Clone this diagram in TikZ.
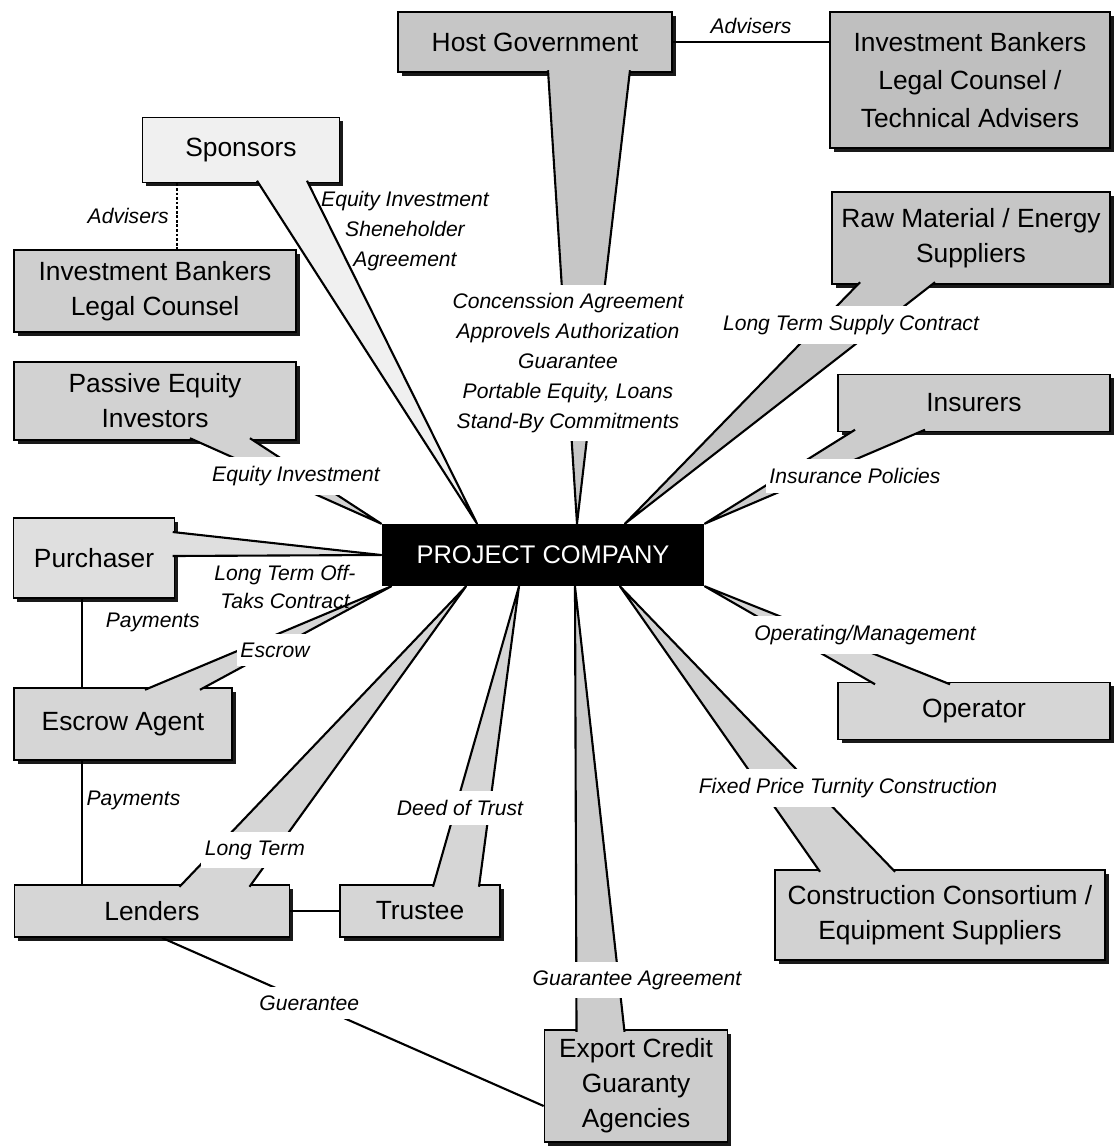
\documentclass[tikz,border=0pt]{standalone}
\usepackage{fontspec}
\setmainfont{Liberation Sans}
\usetikzlibrary{shadows}

\begin{document}
\begin{tikzpicture}[x=0.02cm, y=-0.02cm,
    party/.style={draw, line width=1pt, fill=gray!25, font=\fontsize{15}{20}\selectfont, align=center, inner sep=2pt,
                  drop shadow={shadow xshift=2.2pt, shadow yshift=-2.2pt, fill=black, opacity=0.9}},
    darkparty/.style={party, fill=gray!45},
    beam/.style={line width=1.2pt, line join=round, fill=gray!25},
    link/.style={line width=1.2pt},
    deal/.style={font=\fontsize{12}{17}\selectfont\itshape, align=center, inner sep=1pt},
    cover/.style={deal, fill=white, inner xsep=2pt, inner ysep=5pt},
]
    \useasboundingbox (0,0) rectangle (1114,1146);

    % the company in the middle
    \node[fill=black, text=white, minimum width=6.46cm, minimum height=1.24cm, font=\fontsize{14.5}{16}\selectfont] (pc) at (543,555) {PROJECT COMPANY};

    % parties round it
    \node[darkparty, minimum width=5.48cm, minimum height=1.2cm] (hg) at (535,42) {Host Government};
    \node[darkparty, fill=gray!50, minimum width=5.6cm, minimum height=2.72cm, font=\fontsize{15}{21.5}\selectfont] (ib2) at (970,80) {Investment Bankers\\Legal Counsel /\\Technical Advisers};
    \node[party, fill=gray!12, minimum width=3.94cm, minimum height=1.3cm] (spon) at (241,150) {Sponsors};
    \node[party, fill=gray!38, minimum width=5.64cm, minimum height=1.64cm] (ib1) at (155,291) {Investment Bankers\\Legal Counsel};
    \node[darkparty, minimum width=5.56cm, minimum height=1.84cm] (raw) at (971,238) {Raw Material / Energy\\Suppliers};
    \node[darkparty, fill=gray!40, minimum width=5.44cm, minimum height=1.14cm] (ins) at (974,403) {Insurers};
    \node[party, fill=gray!35, minimum width=5.64cm, minimum height=1.56cm] (pei) at (155,401) {Passive Equity\\Investors};
    \node[party, minimum width=3.22cm, minimum height=1.6cm] (pur) at (94,558) {Purchaser};
    \node[party, fill=gray!32, minimum width=4.36cm, minimum height=1.44cm] (esc) at (123,724) {Escrow Agent};
    \node[party, fill=gray!32, minimum width=5.44cm, minimum height=1.14cm] (opr) at (974,711) {Operator};
    \node[party, fill=gray!32, minimum width=5.5cm, minimum height=1.04cm] (len) at (152,911) {Lenders};
    \node[party, fill=gray!32, minimum width=3.2cm, minimum height=1.04cm] (trs) at (420,911) {Trustee};
    \node[party, fill=gray!35, minimum width=6.6cm, minimum height=1.8cm] (con) at (940,915) {Construction Consortium /\\Equipment Suppliers};
    \node[darkparty, fill=gray!40, minimum width=3.66cm, minimum height=2.24cm] (ecg) at (636,1086) {Export Credit\\Guaranty\\Agencies};

    % beams to the company
    \draw[beam, fill=gray!45] ([xshift=0.26cm, yshift=1.5pt]hg.south) -- ([xshift=0.68cm]pc.north) -- ([xshift=1.9cm, yshift=1.5pt]hg.south);
    \draw[beam, fill=gray!12] ([xshift=0.32cm, yshift=1.5pt]spon.south) -- ([xshift=-1.32cm]pc.north) -- ([xshift=1.32cm, yshift=1.5pt]spon.south);
    \draw[beam, fill=gray!45] ([xshift=-2.22cm, yshift=1.5pt]raw.south) -- ([xshift=1.64cm]pc.north) -- ([xshift=-0.72cm, yshift=1.5pt]raw.south);
    \draw[beam, fill=gray!40] ([xshift=-2.38cm, yshift=1.5pt]ins.south) -- (pc.north east) -- ([xshift=-0.98cm, yshift=1.5pt]ins.south);
    \draw[beam, fill=gray!35] ([xshift=0.7cm, yshift=1.5pt]pei.south) -- (pc.north west) -- ([xshift=1.9cm, yshift=1.5pt]pei.south);
    \draw[beam] ([xshift=-1.5pt, yshift=0.52cm]pur.east) -- (pc.west) -- ([xshift=-1.5pt, yshift=0.04cm]pur.east);
    \draw[beam, fill=gray!32] ([xshift=0.44cm, yshift=-1.5pt]esc.north) -- ([xshift=0.2cm]pc.south west) -- ([xshift=1.54cm, yshift=-1.5pt]esc.north);
    \draw[beam, fill=gray!32] ([xshift=0.55cm, yshift=-1.5pt]len.north) -- ([xshift=-1.54cm]pc.south) -- ([xshift=1.95cm, yshift=-1.5pt]len.north);
    \draw[beam, fill=gray!32] ([xshift=0.26cm, yshift=-1.5pt]trs.north) -- ([xshift=-0.48cm]pc.south) -- ([xshift=1.18cm, yshift=-1.5pt]trs.north);
    \draw[beam, fill=gray!40] ([xshift=-1.19cm, yshift=-1.5pt]ecg.north) -- ([xshift=0.64cm]pc.south) -- ([xshift=-0.23cm, yshift=-1.5pt]ecg.north);
    \draw[beam, fill=gray!35] ([xshift=-2.4cm, yshift=-1.5pt]con.north) -- ([xshift=1.54cm]pc.south) -- ([xshift=-0.9cm, yshift=-1.5pt]con.north);
    \draw[beam, fill=gray!32] ([xshift=-1.98cm, yshift=-1.5pt]opr.north) -- (pc.south east) -- ([xshift=-0.48cm, yshift=-1.5pt]opr.north);

    % plain links
    \draw[link] (hg.east) -- node[deal, above=3pt] (adv2) {Advisers} (hg.east -| ib2.west);
    \draw[link, line width=1.6pt, densely dotted] ([xshift=-1.28cm]spon.south) -- node[deal, left=3pt] (adv1) {Advisers} ([xshift=-1.28cm]spon.south |- ib1.north);
    \draw[link] ([xshift=-0.24cm]pur.south) -- node[deal, right=12pt, pos=0.27] (pay1) {Payments} ([xshift=-0.24cm]pur.south |- esc.north);
    \draw[link] ([xshift=-0.24cm]pur.south |- esc.south) -- node[deal, right=1pt, pos=0.32] (pay2) {Payments} ([xshift=-0.24cm]pur.south |- len.north);
    \draw[link] (len) -- (trs);
    \draw[link] ([xshift=0.2cm]len.south) -- node[cover, pos=0.386] (gua) {Guerantee} ([yshift=-0.4cm]ecg.west);

    % agreements
    \node[deal] (eqs) at (405,231) {Equity Investment\\Sheneholder\\Agreement};
    \node[cover] (conc) at (568,363) {Concenssion Agreement\\Approvels Authorization\\Guarantee\\Portable Equity, Loans\\Stand-By Commitments};
    \node[cover] (lts) at (851,325) {Long Term Supply Contract};
    \node[cover] (ip) at (855,476) {Insurance Policies};
    \node[cover] (ei) at (296,476) {Equity Investment};
    \node[deal, font=\fontsize{12}{15.5}\selectfont\itshape] (ltot) at (285,587) {Long Term Off-\\Taks Contract};
    \node[cover] (escl) at (275,650) {Escrow};
    \node[cover] (om) at (865,635) {Operating/Management};
    \node[cover] (fpt) at (848,788) {Fixed Price Turnity Construction};
    \node[cover] (dot) at (460,808) {Deed of Trust};
    \node[cover] (ltl) at (255,850) {Long Term};
    \node[cover] (gag) at (637,980) {Guarantee Agreement};
\end{tikzpicture}
\end{document}
